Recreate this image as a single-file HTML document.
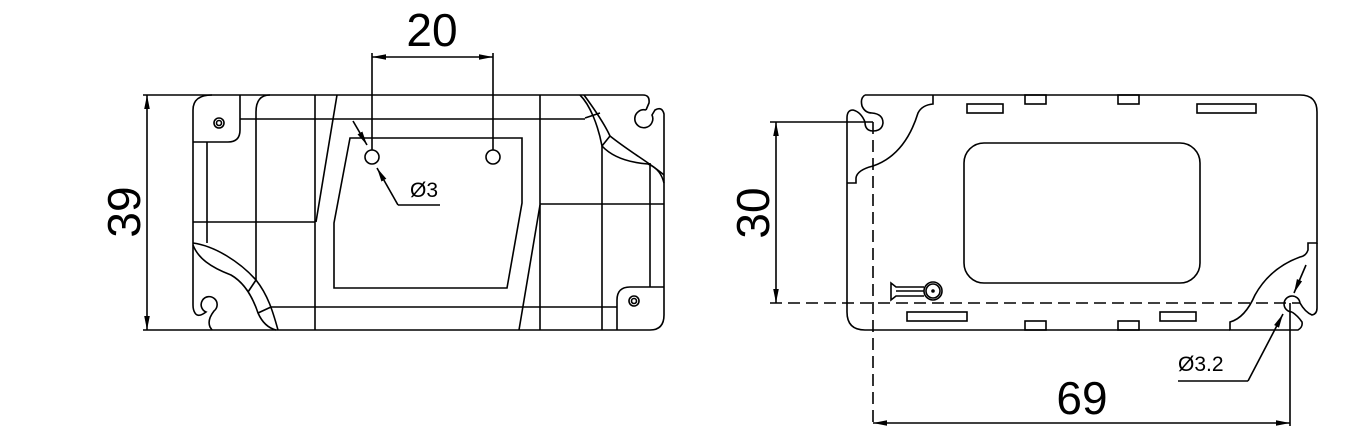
<!DOCTYPE html>
<html><head><meta charset="utf-8"><style>body{margin:0;background:#fff}svg{display:block}</style></head>
<body>
<svg width="1360" height="448" viewBox="0 0 1360 448" xmlns="http://www.w3.org/2000/svg" font-family="Liberation Sans, sans-serif">
<defs>
<marker id="a" viewBox="0 0 10 4" refX="10" refY="2" markerWidth="14" markerHeight="6" markerUnits="userSpaceOnUse" orient="auto-start-reverse"><path d="M0,0 L10,2 L0,4z" fill="#000"/></marker>
</defs>
<g fill="none" stroke="#000" stroke-width="1.6">
<!-- LEFT VIEW outline -->
<path d="M212,95 H643 Q650,95 649,103 L646,110"/>
<path d="M646,110 A9,9 0 1 0 652,115 L655,110 Q662,106 664,114 V315 Q664,330 650,330 H212"/>
<path d="M212,330 L210,327 Q207,320 214,311 A8,8 0 1 0 206,312 Q198,318 195,313 Q193,310 193,305 V110 Q193,95 212,95"/>
<path d="M240,95 V130 Q240,142 228,142 H193"/>
<path d="M664,287 H630 Q617,287 617,300 V330"/>
<line x1="207" y1="142" x2="207" y2="243"/>
<line x1="240" y1="119" x2="585" y2="119"/>
<line x1="271" y1="307" x2="617" y2="307"/>
<path d="M270,95 Q256,95 256,112 V280"/>
<line x1="315" y1="95" x2="315" y2="330"/>
<line x1="540" y1="95" x2="540" y2="330"/>
<line x1="602" y1="146" x2="602" y2="330"/>
<line x1="650" y1="163" x2="650" y2="287"/>
<line x1="193" y1="222" x2="315" y2="222"/>
<line x1="540" y1="204" x2="664" y2="204"/>
<path d="M337,95 L316,222"/>
<path d="M540,205 L519,330"/>
<path d="M350,138 H522 V203 L507,288 H334 V223 Z"/>
<circle cx="372" cy="157" r="7"/>
<circle cx="493" cy="157" r="7"/>
<circle cx="219" cy="123" r="5"/><circle cx="219" cy="123" r="2.5"/>
<circle cx="634" cy="301" r="5"/><circle cx="634" cy="301" r="2.5"/>
<path d="M580,95 C590,105 598,125 602,146 C615,160 635,163 648,164 C658,168 662,175 664,183"/>
<path d="M584,95 C595,110 605,125 610,136 C630,152 650,163 664,175"/>
<line x1="585" y1="118" x2="600" y2="113"/>
<line x1="602" y1="146" x2="610" y2="136"/>
<path d="M193,243 C215,246 240,262 256,280 C268,295 273,312 278,330"/>
<path d="M193,245 C198,258 210,267 231,275 C245,283 253,298 258,313 C262,322 268,328 276,330"/>
<line x1="256" y1="280" x2="248" y2="292"/>
<line x1="258" y1="313" x2="271" y2="307"/>
<line x1="372" y1="53" x2="372" y2="150"/>
<line x1="493" y1="53" x2="493" y2="150"/>
<line x1="372" y1="57" x2="493" y2="57" marker-start="url(#a)" marker-end="url(#a)"/>
<line x1="143" y1="95" x2="212" y2="95"/>
<line x1="143" y1="330" x2="212" y2="330"/>
<line x1="147" y1="95" x2="147" y2="330" marker-start="url(#a)" marker-end="url(#a)"/>
<line x1="353" y1="121" x2="367" y2="145" marker-end="url(#a)"/>
<line x1="398" y1="205" x2="377" y2="168" marker-end="url(#a)"/>
<line x1="398" y1="205" x2="440" y2="205"/>

<!-- RIGHT VIEW -->
<path d="M865,95 H1300 Q1317,95 1317,112 V243 H1308 V250 Q1306,256 1300,257 Q1270,268 1255,295 Q1245,318 1230,322 V330 H1298 Q1303,327 1302,322 Q1298,316 1292,312"/>
<path d="M1300,303 Q1305,312 1312,315 Q1317,314 1317,308 V243"/>
<path d="M1300,303 A8,8 0 1 0 1292,312"/>
<path d="M865,95 Q860,98 862,106 Q865,113 872,113 Q883,114 883,123 Q882,131 873,131 Q865,131 865,122 Q861,112 853,110 Q847,110 847,118 V312 Q847,330 865,330 H1230"/>
<path d="M933,95 V104 Q922,105 918,113 Q905,155 873,166 Q857,170 856,178 V183 H847"/>
<rect x="964" y="143" width="236" height="140" rx="20"/>
<rect x="967" y="104" width="36" height="9"/>
<rect x="1197" y="104" width="59" height="9"/>
<rect x="1025" y="95" width="21" height="9"/>
<rect x="1118" y="95" width="21" height="9"/>
<rect x="907" y="312" width="60" height="9"/>
<rect x="1160" y="312" width="36" height="9"/>
<rect x="1025" y="321" width="21" height="9"/>
<rect x="1118" y="321" width="21" height="9"/>
<circle cx="933" cy="291" r="9"/><circle cx="933" cy="291" r="7"/>
<circle cx="933" cy="291" r="1" fill="#000"/>
<path d="M924,287 H896 L891,283 V300 L896,296 H924"/>
<line x1="896" y1="291" x2="924" y2="291"/>
<line x1="770" y1="303" x2="1300" y2="303" stroke-dasharray="12,6"/>
<line x1="873" y1="122" x2="873" y2="428" stroke-dasharray="12,6"/>
<line x1="770" y1="122" x2="873" y2="122"/>
<line x1="776" y1="122" x2="776" y2="303" marker-start="url(#a)" marker-end="url(#a)"/>
<line x1="1290" y1="303" x2="1290" y2="426"/>
<line x1="873" y1="423" x2="1290" y2="423" marker-start="url(#a)" marker-end="url(#a)"/>
<line x1="1306" y1="265" x2="1294" y2="293" marker-end="url(#a)"/>
<line x1="1248" y1="381" x2="1283" y2="314" marker-end="url(#a)"/>
<line x1="1248" y1="381" x2="1178" y2="381"/>
</g>
<g fill="#000">
<text x="432" y="46" font-size="46" text-anchor="middle">20</text>
<text transform="translate(140,212) rotate(-90)" font-size="46" text-anchor="middle">39</text>
<text x="410" y="197" font-size="21">Ø3</text>
<text transform="translate(769,213) rotate(-90)" font-size="46" text-anchor="middle">30</text>
<text x="1082" y="414" font-size="46" text-anchor="middle">69</text>
<text x="1178" y="371" font-size="21">Ø3.2</text>
</g>
</svg>
</body></html>
